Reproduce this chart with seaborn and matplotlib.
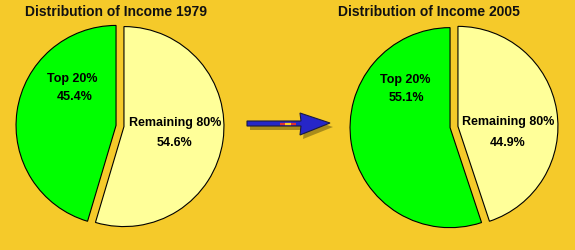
import matplotlib
matplotlib.use("Agg")
import matplotlib.pyplot as plt
import seaborn as sns
from matplotlib.patches import Polygon

years = ["1979", "2005"]
categories = ["Top 20%", "Remaining 80%"]
top20 = [45.4, 55.1]
remaining = [54.6, 44.9]

BG = "#F5CA2A"
sns.set_theme(style="white", rc={"figure.facecolor": BG, "axes.facecolor": BG})
plt.rcParams["font.family"] = ["Liberation Sans", "DejaVu Sans"]

colors = ["#00FF00", "#FFFF99"]

fig = plt.figure(figsize=(5.75, 2.5), dpi=100)
ax = fig.add_axes([0, 0, 1, 1])
ax.set_facecolor(BG)

H = 250
centers = [(120, H - 126), (454, H - 127)]
R = 100
title_x = [116, 429]

for i, yr in enumerate(years):
    vals = [top20[i], remaining[i]]
    wedges, _ = ax.pie(vals, colors=colors, startangle=90, counterclock=True,
                       explode=[4, 4], radius=R, center=centers[i],
                       frame=True,
                       wedgeprops=dict(edgecolor="black", linewidth=0.8))
    ax.text(title_x[i], H - 12, f"Distribution of Income {yr}", ha="center",
            va="center", fontsize=10, fontweight="bold", color="#111111")

# labels
lab = [
    ((72, 79), (75, 97), (175, 123), (175, 143)),
    ((405, 80), (406, 98), (508, 122), (508, 143)),
]
for i in range(2):
    (t1, t2, r1, r2) = lab[i]
    ax.text(t1[0], H - t1[1], categories[0], ha="center", va="center",
            fontsize=9, fontweight="bold", color="black")
    ax.text(t2[0], H - t2[1], f"{top20[i]:.1f}%", ha="center", va="center",
            fontsize=9, fontweight="bold", color="black")
    ax.text(r1[0], H - r1[1], categories[1], ha="center", va="center",
            fontsize=9, fontweight="bold", color="black")
    ax.text(r2[0], H - r2[1], f"{remaining[i]:.1f}%", ha="center", va="center",
            fontsize=9, fontweight="bold", color="black")

# arrow with shadow
def arrow_pts(dx=0, dy=0):
    pts = [(247, 121), (301, 121), (300, 113), (330, 123), (300, 135),
           (301, 126), (247, 126)]
    return [(x + dx, H - (y + dy)) for x, y in pts]

ax.add_patch(Polygon(arrow_pts(3, 4), closed=True, facecolor="#6b5a10",
                     edgecolor="none", alpha=0.55))
ax.add_patch(Polygon(arrow_pts(), closed=True, facecolor="#2626C8",
                     edgecolor="#1a1a40", linewidth=0.8))
ax.plot([280, 296], [H - 123.5, H - 123.5], color="#E03030", lw=1.6,
        solid_capstyle="butt")
ax.plot([285, 291], [H - 123.5, H - 123.5], color="#FFD020", lw=1.6,
        solid_capstyle="butt")

ax.set_xlim(0, 575)
ax.set_ylim(0, 250)
ax.set_aspect("equal")
ax.axis("off")

fig.savefig("out.png", dpi=100, facecolor=BG)
